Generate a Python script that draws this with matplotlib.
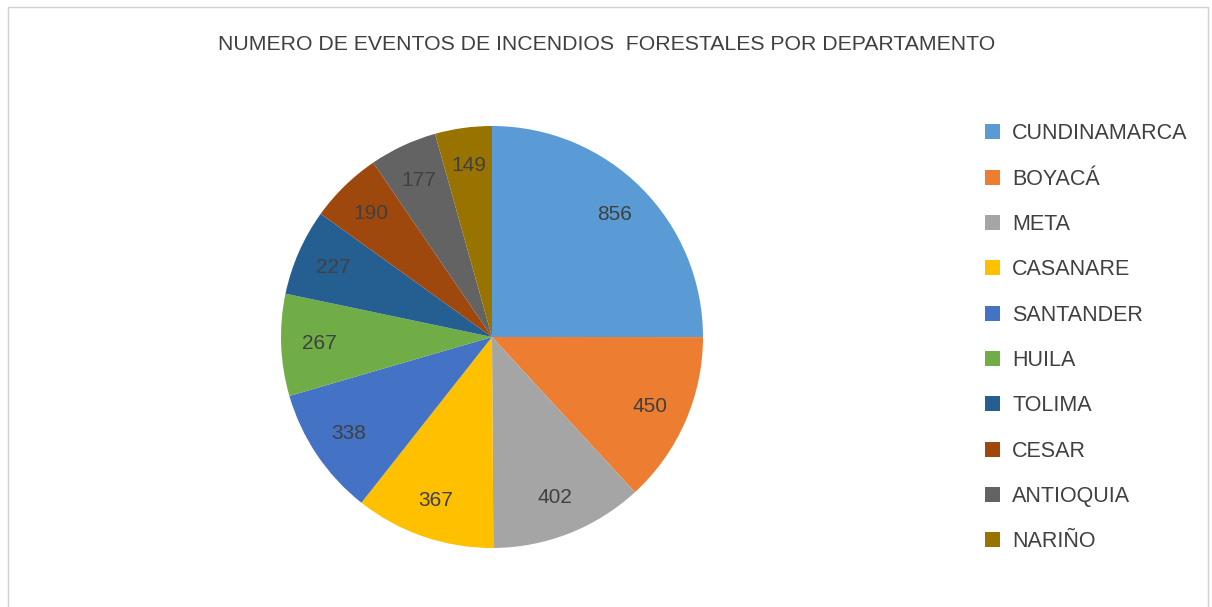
import matplotlib
matplotlib.use('Agg')
import matplotlib.pyplot as plt
from matplotlib.patches import Rectangle

departamentos = ['CUNDINAMARCA', 'BOYACÁ', 'META', 'CASANARE', 'SANTANDER',
                 'HUILA', 'TOLIMA', 'CESAR', 'ANTIOQUIA', 'NARIÑO']
eventos = [856, 450, 402, 367, 338, 267, 227, 190, 177, 149]
colores = ['#5B9BD5', '#ED7D31', '#A5A5A5', '#FFC000', '#4472C4',
           '#70AD47', '#255E91', '#9E480E', '#636363', '#997300']
titulo = 'NUMERO DE EVENTOS DE INCENDIOS  FORESTALES POR DEPARTAMENTO'

plt.rcParams['font.family'] = ['Liberation Sans', 'DejaVu Sans']

W, H = 1212, 607
fig = plt.figure(figsize=(W / 100, H / 100), dpi=100)

# marco del grafico
fig.patches.append(Rectangle((8 / W, -0.01), 1200 / W, 1 - 7 / H + 0.01,
                             transform=fig.transFigure, fill=False,
                             edgecolor='#D0D0D0', linewidth=1))

cx, cy, r = 492, 337, 211
ax = fig.add_axes([(cx - r) / W, (H - cy - r) / H, 2 * r / W, 2 * r / H])
total = sum(eventos)
wedges, texts, autotexts = ax.pie(
    eventos, colors=colores, startangle=90, counterclock=False, radius=1,
    autopct=lambda p: '{:d}'.format(int(round(p * total / 100))),
    pctdistance=0.82, wedgeprops={'linewidth': 0},
    textprops={'fontsize': 15, 'color': '#404040'})
ax.set_xlim(-1, 1)
ax.set_ylim(-1, 1)
ax.set_aspect('equal')
ax.axis('off')

fig.text(607 / W, 1 - 45 / H, titulo, ha='center', va='center',
         fontsize=15.3, color='#404040')

leg = fig.legend(wedges, departamentos, loc='upper left',
                 bbox_to_anchor=(966 / W, 1 - 104 / H), frameon=False,
                 fontsize=15.5, labelspacing=1.13, handlelength=0.7,
                 handleheight=0.7, handletextpad=0.55)
for t in leg.get_texts():
    t.set_color('#404040')

fig.savefig('out.png', dpi=100)
